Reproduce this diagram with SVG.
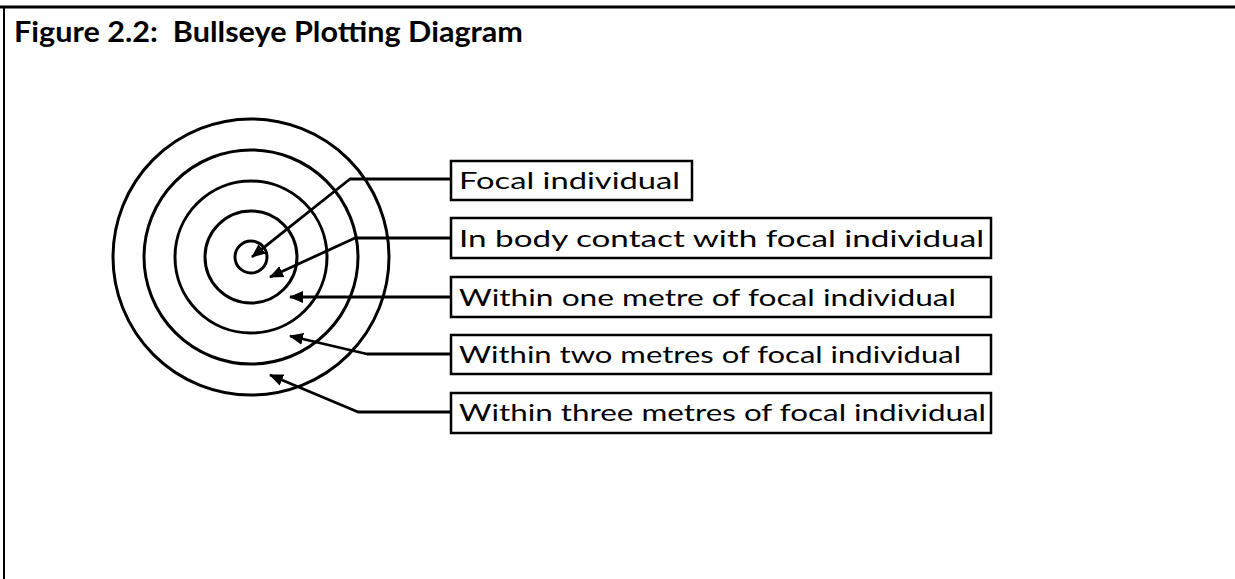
<svg xmlns="http://www.w3.org/2000/svg" width="1235" height="579" viewBox="0 0 1235 579">
<style>
.ring{fill:none;stroke:#000;stroke-width:3}
.box{fill:#fff;stroke:#000;stroke-width:2.5}
.lbl{font-family:"Lato","DejaVu Sans",sans-serif;font-size:24px;fill:#000}
.title{font-family:"Lato","DejaVu Sans",sans-serif;font-size:28px;font-weight:bold;fill:#000}
.conn{fill:none;stroke:#000;stroke-width:2.8;stroke-linejoin:round}
</style>
<defs>
<marker id="ah" markerWidth="14" markerHeight="12" refX="13" refY="6" orient="auto" markerUnits="userSpaceOnUse">
<path d="M0,0 L14,6 L0,12 Z" fill="#000"/>
</marker>
</defs>
<rect x="0" y="0" width="1235" height="579" fill="#fff"/>
<g id="frame">
<line x1="0" y1="7" x2="1235" y2="7" stroke="#000" stroke-width="3"/>
<line x1="4" y1="6" x2="4" y2="579" stroke="#000" stroke-width="2"/>
</g>
<text class="title" x="14" y="42" textLength="509" lengthAdjust="spacingAndGlyphs" xml:space="preserve">Figure 2.2:  Bullseye Plotting Diagram</text>
<g id="bullseye">
<circle class="ring" cx="251" cy="257" r="16"/>
<circle class="ring" cx="251" cy="257" r="46"/>
<circle class="ring" cx="251" cy="257" r="76"/>
<circle class="ring" cx="251" cy="257" r="107"/>
<circle class="ring" cx="251" cy="257" r="138"/>
</g>
<g id="connectors">
<path class="conn" d="M450,179 L350,179 L252,257" marker-end="url(#ah)"/>
<path class="conn" d="M450,238 L355,238 L270,277" marker-end="url(#ah)"/>
<path class="conn" d="M450,297 L290,297" marker-end="url(#ah)"/>
<path class="conn" d="M450,354 L367,354 L290,336" marker-end="url(#ah)"/>
<path class="conn" d="M450,412 L358,412 L270,375" marker-end="url(#ah)"/>
</g>
<g id="n1">
<rect class="box" x="451" y="161" width="241" height="39"/>
<text class="lbl" x="459" y="189" textLength="221" lengthAdjust="spacingAndGlyphs">Focal individual</text>
</g>
<g id="n2">
<rect class="box" x="451" y="218" width="540" height="40"/>
<text class="lbl" x="459" y="247" textLength="525" lengthAdjust="spacingAndGlyphs">In body contact with focal individual</text>
</g>
<g id="n3">
<rect class="box" x="451" y="277" width="540" height="40"/>
<text class="lbl" x="459" y="306" textLength="497" lengthAdjust="spacingAndGlyphs">Within one metre of focal individual</text>
</g>
<g id="n4">
<rect class="box" x="451" y="335" width="540" height="39"/>
<text class="lbl" x="459" y="363" textLength="502" lengthAdjust="spacingAndGlyphs">Within two metres of focal individual</text>
</g>
<g id="n5">
<rect class="box" x="451" y="393" width="540" height="40"/>
<text class="lbl" x="459" y="421" textLength="527" lengthAdjust="spacingAndGlyphs">Within three metres of focal individual</text>
</g>
</svg>
